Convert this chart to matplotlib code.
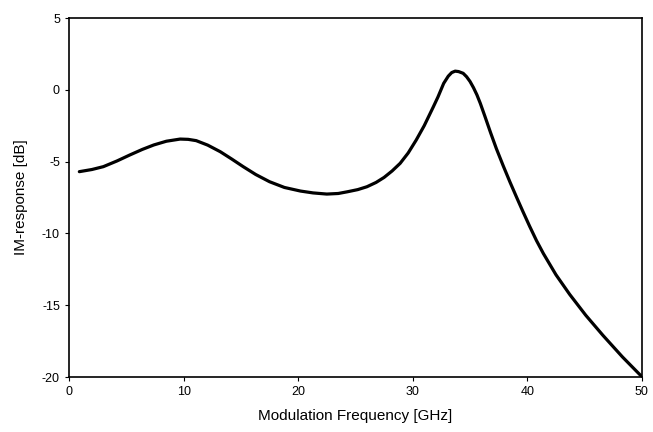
import numpy as np
import matplotlib.pyplot as plt

plt.rcParams['font.family'] = ['Liberation Sans', 'DejaVu Sans']
plt.rcParams['axes.unicode_minus'] = False

# values
freq_ghz = [0.9, 2.0, 3.0, 4.2, 5.3, 6.4, 7.4, 8.5, 9.7, 10.4, 11.1, 12.1,
            13.2, 14.2, 15.2, 16.3, 17.5, 18.8, 20.2, 21.3, 22.5, 23.5,
            24.3, 25.2, 26.0, 26.8, 27.5, 28.2, 28.9, 29.6, 30.3, 31.0,
            31.8, 32.2, 32.7, 33.1, 33.4, 33.7, 34.0, 34.4, 34.7, 35.0,
            35.3, 35.6, 35.9, 36.3, 36.8, 37.3, 37.9, 38.5, 39.1, 39.6,
            40.2, 40.8, 41.4, 42.5, 43.7, 45.1, 46.6, 48.3, 50.0]
im_db = [-5.7, -5.55, -5.35, -4.95, -4.54, -4.15, -3.84, -3.58, -3.43, -3.45,
         -3.54, -3.85, -4.31, -4.82, -5.35, -5.9, -6.4, -6.8, -7.05, -7.18,
         -7.26, -7.22, -7.1, -6.95, -6.75, -6.45, -6.1, -5.65, -5.12, -4.4,
         -3.5, -2.5, -1.18, -0.5, 0.45, 0.95, 1.2, 1.3, 1.27, 1.15, 0.91,
         0.58, 0.15, -0.35, -0.95, -1.85, -3.0, -4.1, -5.3, -6.45, -7.55,
         -8.45, -9.5, -10.5, -11.4, -12.88, -14.25, -15.7, -17.1, -18.6,
         -19.98]

xticks = [0, 10, 20, 30, 40, 50]
yticks = [5, 0, -5, -10, -15, -20]

fig = plt.figure(figsize=(6.53, 4.32), dpi=100)
ax = fig.add_axes([0.1057, 0.1273, 0.8773, 0.831])
ax.plot(freq_ghz, im_db, color='black', linewidth=2.3,
        solid_capstyle='round', solid_joinstyle='round')

ax.set_xlim(0, 50)
ax.set_ylim(-20, 5)
ax.set_xticks(xticks)
ax.set_yticks(yticks)
ax.tick_params(direction='out', length=3, width=0.8, labelsize=9, colors='black')
for s in ax.spines.values():
    s.set_linewidth(1.2)
    s.set_color('black')

ax.set_xlabel('Modulation Frequency [GHz]', fontsize=11, labelpad=8)
ax.set_ylabel('IM-response [dB]', fontsize=11, labelpad=10)

fig.savefig('out.png', dpi=100)
plt.close(fig)
